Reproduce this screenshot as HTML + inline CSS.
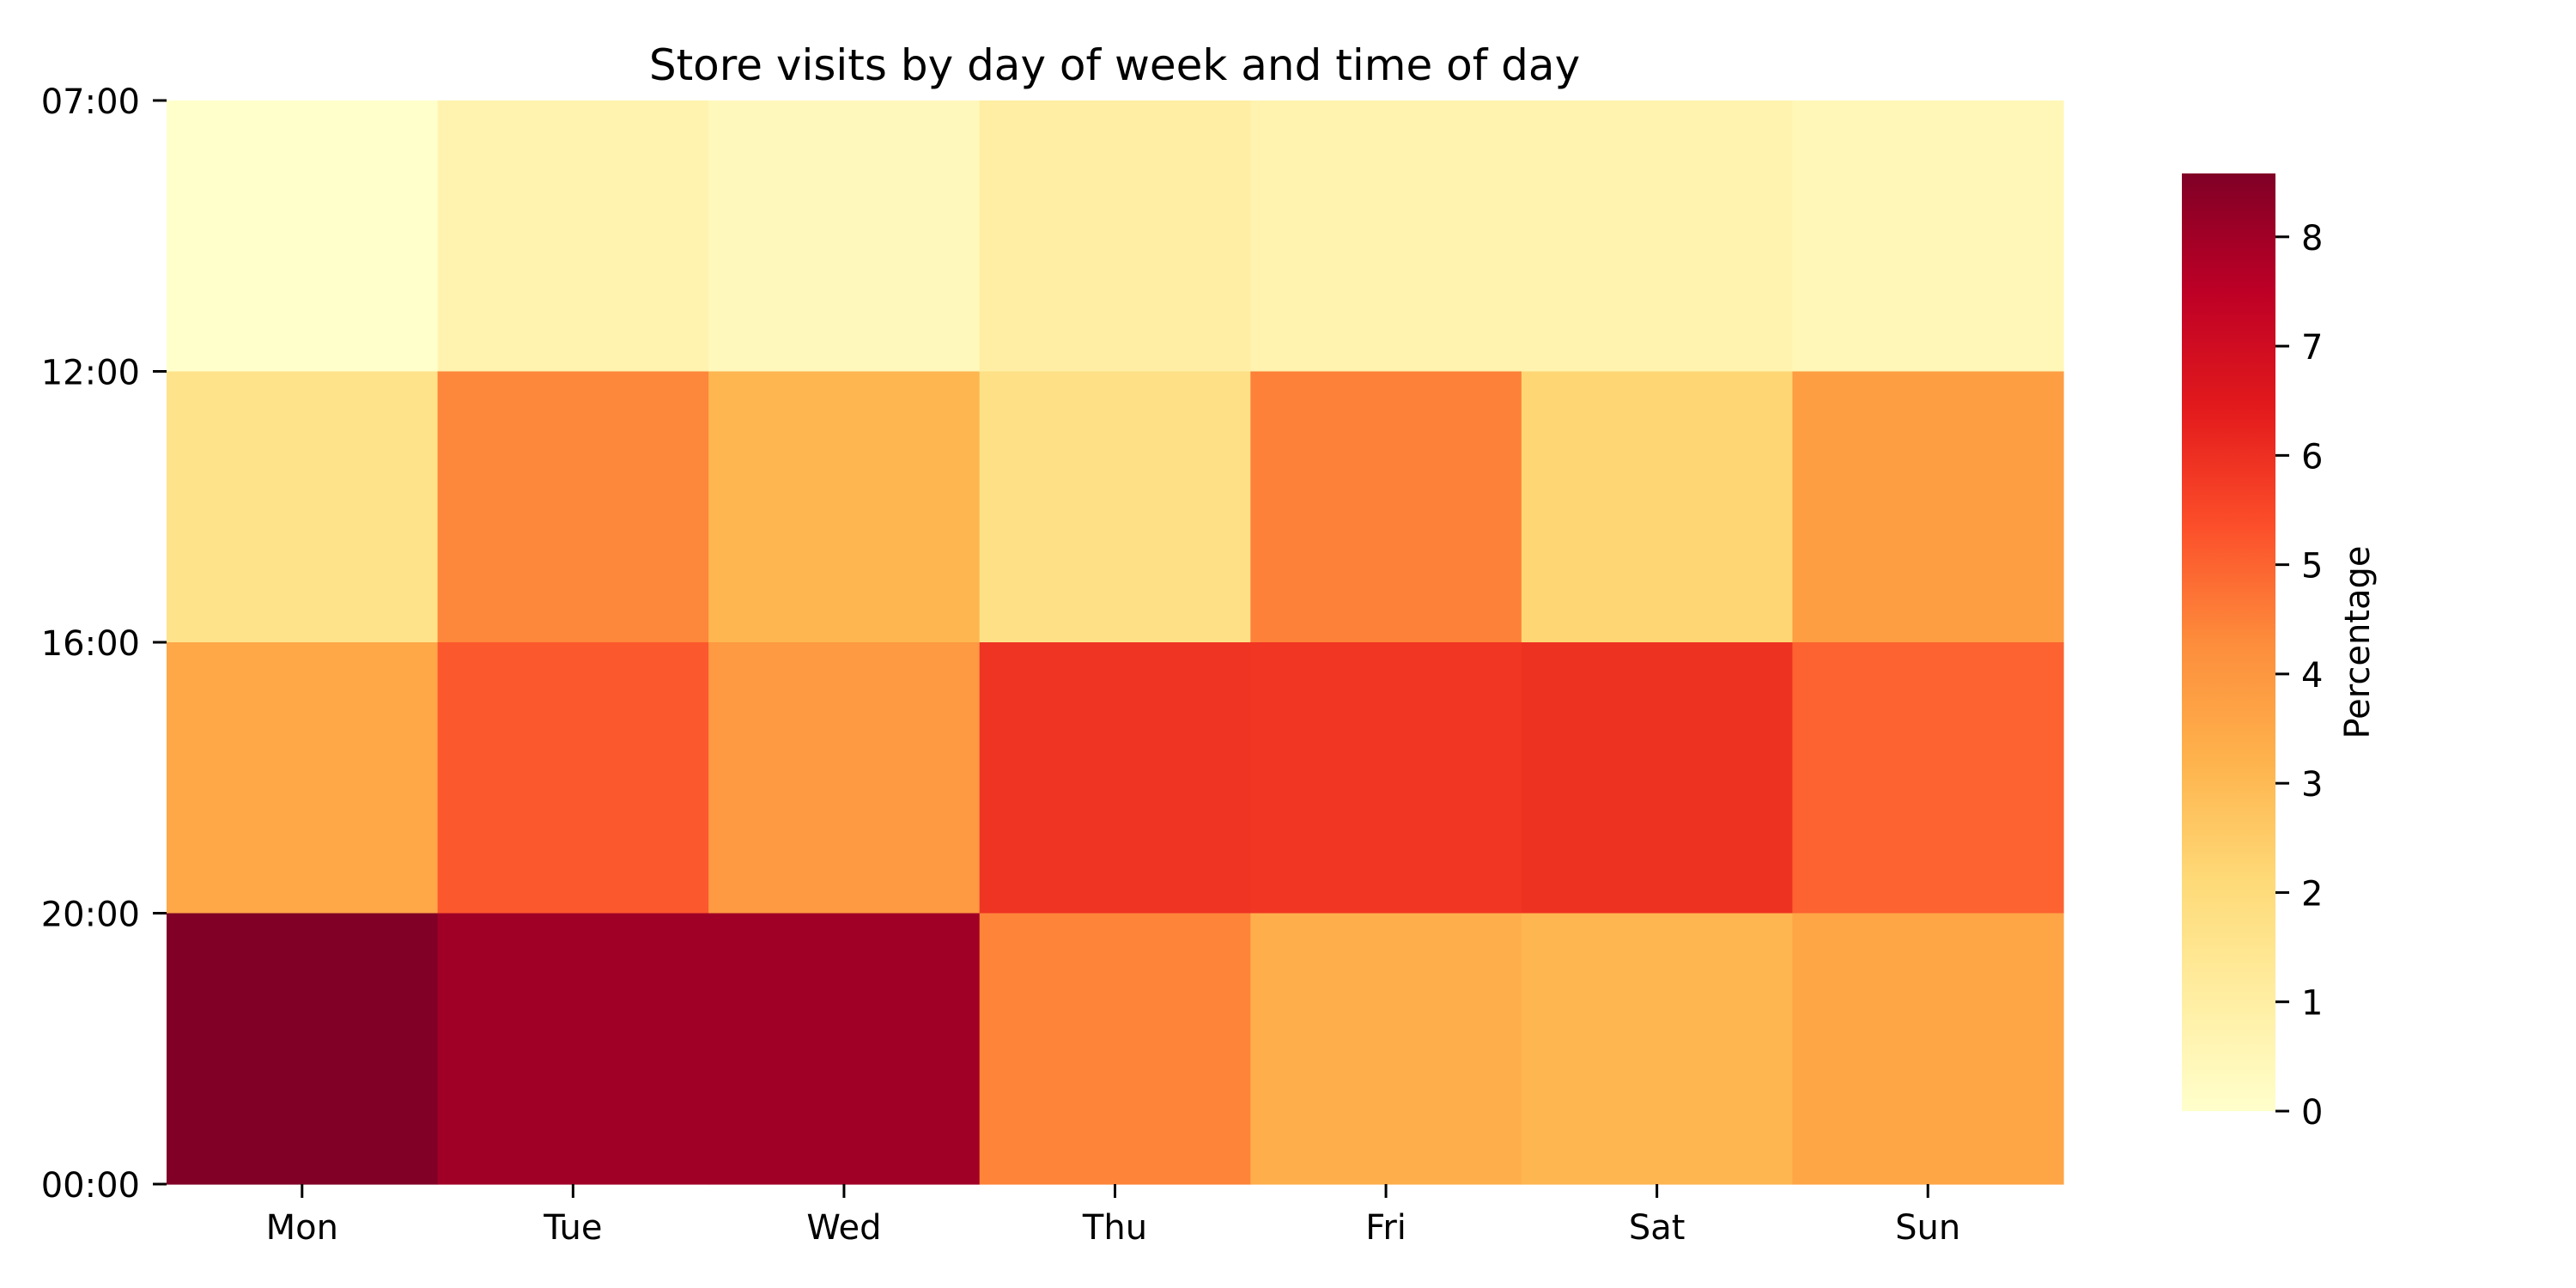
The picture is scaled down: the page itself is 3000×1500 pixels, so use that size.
<!DOCTYPE html>
<html><head><meta charset="utf-8"><title>Store visits heatmap</title>
<style>html,body{margin:0;padding:0;background:#fff}svg{display:block}text{font-family:"DejaVu Sans","Liberation Sans",sans-serif;fill:#000}</style>
</head><body>
<svg id="chart" width="3000" height="1500" viewBox="0 0 3000 1500" xmlns="http://www.w3.org/2000/svg">
<defs><linearGradient id="cbgrad" x1="0" y1="1" x2="0" y2="0"></linearGradient></defs>
<text x="1298" y="93" font-size="50" text-anchor="middle">Store visits by day of week and time of day</text>
<g id="cells"></g><g id="axes"></g><g id="cbar"></g>
</svg>
<script>
const days = ["Mon","Tue","Wed","Thu","Fri","Sat","Sun"];
const timeLabels = ["07:00","12:00","16:00","20:00","00:00"];
const row0700 = [0.0, 0.7, 0.4, 1.0, 0.7, 0.7, 0.5];
const row1200 = [1.6, 4.4, 3.1, 1.7, 4.5, 2.2, 3.8];
const row1600 = [3.5, 5.2, 3.9, 5.9, 5.85, 5.95, 5.0];
const row2000 = [8.58, 8.0, 8.0, 4.45, 3.3, 3.1, 3.6];
const cbTicks = [0,1,2,3,4,5,6,7,8];
const vmin = 0, vmax = 8.58;

const rows = [row0700,row1200,row1600,row2000];
const NS="http://www.w3.org/2000/svg";
const L=194,R=2403,T=117,B=1379;
const cw=(R-L)/days.length, rh=(B-T)/rows.length;
const xPos=i=>L+i*cw, yPos=j=>T+j*rh;
const stops=["#ffffcc","#ffeda0","#fed976","#feb24c","#fd8d3c","#fc4e2a","#e31a1c","#bd0026","#800026"];
function hex(h){return [1,3,5].map(k=>parseInt(h.substr(k,2),16));}
function cmap(v){let t=Math.max(0,Math.min(1,(v-vmin)/(vmax-vmin)))*8;let i=Math.min(7,Math.floor(t)),f=t-i;
 const a=hex(stops[i]),b=hex(stops[i+1]);return "rgb("+a.map((c,k)=>Math.round(c+(b[k]-c)*f)).join(",")+")";}
function mk(tag,attrs,parent){const e=document.createElementNS(NS,tag);for(const k in attrs)e.setAttribute(k,attrs[k]);parent.appendChild(e);return e;}
const cells=document.getElementById('cells');
rows.forEach((r,j)=>r.forEach((v,i)=>{
 const e=mk('rect',{x:xPos(i),y:yPos(j),width:cw+0.6,height:rh+0.6,fill:cmap(v)},cells);
 
 
}));
const ax=document.getElementById('axes');
days.forEach((d,i)=>{
 const cx=xPos(i)+cw/2;
 const t=mk('line',{x1:cx,y1:B,x2:cx,y2:B+16,stroke:'#000','stroke-width':3},ax);
 
 
 const l=mk('text',{x:cx,y:1443,'font-size':40,'text-anchor':'middle'},ax);l.textContent=d;
 
 
});
timeLabels.forEach((s,j)=>{
 const y=T+j*rh;
 const t=mk('line',{x1:178,y1:y,x2:L,y2:y,stroke:'#000','stroke-width':3},ax);
 
 
 const l=mk('text',{x:163,y:y+15,'font-size':40,'text-anchor':'end'},ax);l.textContent=s;
 
 
});
const g=document.getElementById('cbgrad');
for(let k=0;k<=40;k++){const v=vmin+(vmax-vmin)*k/40;mk('stop',{offset:(k/40),'stop-color':cmap(v)},g);}
const cb=document.getElementById('cbar');
const CL=2541,CR=2650,CT=202,CB=1294;
const cy=v=>CB-(v-vmin)/(vmax-vmin)*(CB-CT);
const bar=mk('rect',{x:CL,y:CT,width:CR-CL,height:CB-CT,fill:'url(#cbgrad)'},cb);


cbTicks.forEach(v=>{
 const y=cy(v);
 const t=mk('line',{x1:CR,y1:y,x2:CR+16,y2:y,stroke:'#000','stroke-width':3},cb);
 
 
 const l=mk('text',{x:2680,y:y+15,'font-size':40},cb);l.textContent=v;
 
 
});
const lab=mk('text',{x:2759,y:748,'font-size':40,'text-anchor':'middle',transform:'rotate(-90 2759 748)'},cb);
lab.textContent='Percentage';


</script>
</body></html>
